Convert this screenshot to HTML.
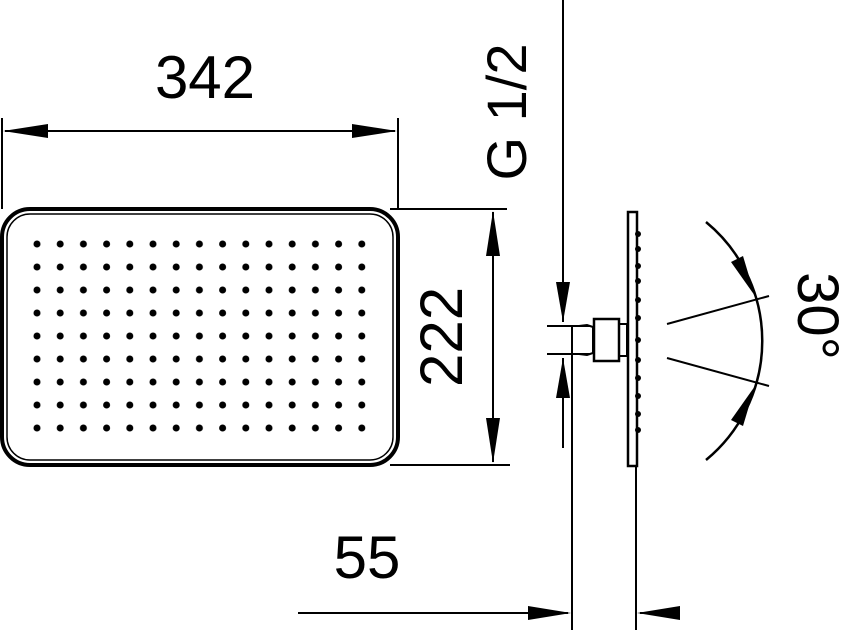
<!DOCTYPE html>
<html><head><style>body{margin:0;background:#fff}svg{display:block}text{font-family:"Liberation Sans",sans-serif;fill:#000}</style></head><body>
<svg width="846" height="630" viewBox="0 0 846 630" xmlns="http://www.w3.org/2000/svg">
<defs>
<pattern id="d" x="26" y="233" width="23.2" height="23" patternUnits="userSpaceOnUse"><circle cx="11" cy="11" r="3.5" fill="#000"/></pattern>
</defs>
<g stroke="#000" fill="none">
<rect x="2" y="209" width="396" height="256" rx="28" stroke-width="4"/>
<rect x="7" y="214" width="386" height="246" rx="23" stroke-width="1.5"/>
<rect x="26" y="233" width="349" height="207" fill="url(#d)" stroke="none"/>
<line x1="2" y1="118" x2="2" y2="209" stroke-width="2"/>
<line x1="398" y1="118" x2="398" y2="209" stroke-width="2"/>
<line x1="5" y1="131" x2="395" y2="131" stroke-width="2"/>
<line x1="390" y1="209" x2="507" y2="209" stroke-width="2"/>
<line x1="390" y1="465" x2="510" y2="465" stroke-width="2"/>
<line x1="493" y1="212" x2="493" y2="462" stroke-width="2"/>
<line x1="563" y1="0" x2="563" y2="322" stroke-width="2"/>
<line x1="563" y1="358" x2="563" y2="448" stroke-width="2"/>
<line x1="572" y1="326" x2="572" y2="630" stroke-width="2"/>
<line x1="547" y1="326" x2="590" y2="326" stroke-width="2"/>
<line x1="547" y1="354" x2="590" y2="354" stroke-width="2"/>
<path d="M579 326 L587 325 L593 327 L593 353 L587 355 L579 354" stroke-width="2"/>
<rect x="594" y="319" width="25" height="42" stroke-width="2.5"/>
<rect x="619" y="324" width="8" height="32" stroke-width="2"/>
<rect x="628" y="212" width="9" height="254" stroke-width="2.5"/>
<line x1="298" y1="613" x2="568" y2="613" stroke-width="2"/>
<line x1="640" y1="613" x2="680" y2="613" stroke-width="2"/>
<line x1="636" y1="466" x2="636" y2="630" stroke-width="2"/>
<path d="M706 222 A154 154 0 0 1 706 460" stroke-width="2.5"/>
<line x1="667" y1="324" x2="769" y2="296" stroke-width="2"/>
<line x1="667" y1="358" x2="769" y2="386" stroke-width="2"/>
</g>
<g fill="#000">
<circle cx="638" cy="234" r="3"/><circle cx="638" cy="249" r="3"/><circle cx="638" cy="266" r="3"/><circle cx="638" cy="281" r="3"/><circle cx="638" cy="300" r="3"/><circle cx="638" cy="318" r="3"/><circle cx="638" cy="340" r="3"/><circle cx="638" cy="360" r="3"/><circle cx="638" cy="378" r="3"/><circle cx="638" cy="396" r="3"/><circle cx="638" cy="414" r="3"/><circle cx="638" cy="430" r="3"/>
<polygon points="3,131 48,124 48,138"/>
<polygon points="397,131 352,124 352,138"/>
<polygon points="493,211 486,256 500,256"/>
<polygon points="493,463 486,418 500,418"/>
<polygon points="563,322 556,282 570,282"/>
<polygon points="563,358 556,398 570,398"/>
<polygon points="571,613 528,606 528,620"/>
<polygon points="637,613 680,606 680,620"/>
<polygon points="755,296 731,262 743,256"/>
<polygon points="755,386 731,420 743,426"/>
</g>
<text x="205" y="98" font-size="60" text-anchor="middle">342</text>
<text x="367" y="578" font-size="60" text-anchor="middle">55</text>
<text transform="translate(462,337) rotate(-90)" font-size="60" text-anchor="middle">222</text>
<text transform="translate(526,112) rotate(-90)" font-size="56" text-anchor="middle">G 1/2</text>
<text transform="translate(798,316) rotate(90)" font-size="58" text-anchor="middle">30°</text>
</svg>
</body></html>
